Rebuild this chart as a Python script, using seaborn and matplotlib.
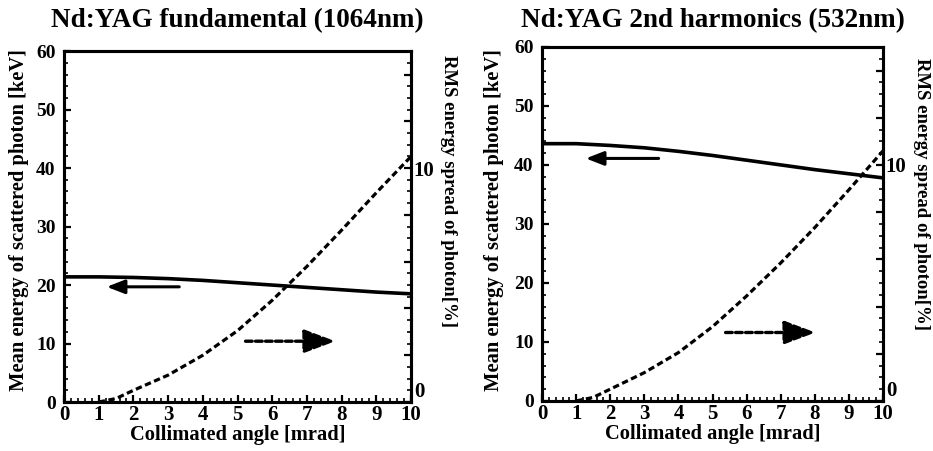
import matplotlib
matplotlib.use("Agg")
import matplotlib.pyplot as plt
from matplotlib.ticker import MultipleLocator
import seaborn as sns
import pandas as pd

# Collimated angle [mrad]
angle = [0, 1, 2, 3, 4, 5, 6, 7, 8, 9, 10]
# Mean energy of scattered photon [keV]
mean_1064 = [21.4, 21.4, 21.3, 21.1, 20.8, 20.4, 20.0, 19.6, 19.2, 18.8, 18.5]
mean_532 = [43.6, 43.6, 43.3, 42.9, 42.3, 41.6, 40.8, 40.0, 39.2, 38.5, 37.8]

# RMS energy spread of photon [%]
spread_angle = [1, 1.5, 2, 3, 4, 5, 6, 7, 8, 9, 10]
spread_1064 = [0.0, 0.15, 0.5, 1.15, 2.0, 3.05, 4.35, 5.8, 7.35, 8.95, 10.5]
spread_532 = [0.0, 0.15, 0.5, 1.2, 2.05, 3.15, 4.45, 5.85, 7.35, 8.95, 10.6]

titles = ["Nd:YAG fundamental (1064nm)", "Nd:YAG 2nd harmonics (532nm)"]
xticks = list(range(0, 11))
left_ticks = [0, 10, 20, 30, 40, 50, 60]
right_ticks = [0, 2, 4, 6, 8, 10, 12, 14]
right_labels = ["0", "", "", "", "", "10", "", ""]

sns.set_theme(style="white")
plt.rcParams["font.family"] = ["Liberation Serif", "DejaVu Serif"]
plt.rcParams["font.weight"] = "bold"
plt.rcParams["text.color"] = "black"
plt.rcParams["axes.labelcolor"] = "black"
plt.rcParams["axes.titlecolor"] = "black"
plt.rcParams["xtick.color"] = "black"
plt.rcParams["ytick.color"] = "black"

fig = plt.figure(figsize=(9.33, 4.51), dpi=100)
positions = [[0.0686, 0.1086, 0.372, 0.778], [0.581, 0.111, 0.3655, 0.785]]
title_pads = [17, 14]
ylabel_xy = [(-0.101, 0.518), (-0.111, 0.511)]
y2label_xy = [(1.107, 0.60), (1.114, 0.585)]
means = [mean_1064, mean_532]
spreads = [spread_1064, spread_532]
# arrow geometry per panel: solid tail/tip x and y (left axis), dashed tail/tip x and y (right axis)
arrows = [(3.4, 1.15, 19.7, 5.15, 7.9, 10.4 / 4),
          (3.5, 1.2, 41.1, 5.3, 8.1, 11.6 / 4)]

for i in range(2):
    ax = fig.add_axes(positions[i])
    ax2 = ax.twinx()

    dfm = pd.DataFrame({"angle": angle, "mean": means[i]})
    dfs = pd.DataFrame({"angle": spread_angle, "spread": spreads[i]})
    sns.lineplot(data=dfm, x="angle", y="mean", ax=ax, color="black", lw=2.6)
    sns.lineplot(data=dfs, x="angle", y="spread", ax=ax2, color="black",
                 lw=2.3, linestyle=(0, (2.0, 1.1)))

    ax.set_xlim(0, 10)
    ax.set_ylim(0, 60)
    ax2.set_ylim(0, 15)

    ax.set_xticks(xticks)
    ax.set_xticklabels([str(t) for t in xticks], fontsize=15, fontweight="bold")
    ax.xaxis.set_minor_locator(MultipleLocator(0.2))
    ax.set_yticks(left_ticks)
    ax.set_yticklabels([str(t) for t in left_ticks], fontsize=14, fontweight="bold")
    ax.yaxis.set_minor_locator(MultipleLocator(2))
    ax2.set_yticks(right_ticks)
    ax2.set_yticklabels(right_labels, fontsize=15, fontweight="bold")
    ax2.yaxis.set_minor_locator(MultipleLocator(0.5))
    # raise the right-hand zero so it sits above the bottom tick row
    for lab in ax2.get_yticklabels():
        if lab.get_text() == "0":
            lab.set_verticalalignment("bottom")

    for a in (ax, ax2):
        a.tick_params(which="major", direction="in", length=5, width=1.6, pad=2, colors="black")
        a.tick_params(which="minor", direction="in", length=3, width=1.2, colors="black")
        a.grid(False)
        for s in a.spines.values():
            s.set_linewidth(2.2)
            s.set_color("black")
    ax.tick_params(axis="y", which="both", left=True, right=False, pad=6)
    ax.tick_params(axis="x", which="both", bottom=True, top=False)
    ax2.tick_params(axis="y", which="both", right=True, left=False)

    ax.set_xlabel("Collimated angle [mrad]", fontsize=14.8, fontweight="bold", labelpad=0)
    ax.set_ylabel("Mean energy of scattered photon [keV]", fontsize=14.8, fontweight="bold")
    ax.yaxis.set_label_coords(*ylabel_xy[i])
    ax2.set_ylabel("RMS energy spread of photon[%]", fontsize=13.5, fontweight="bold",
                   rotation=-90, va="center")
    ax2.yaxis.set_label_coords(*y2label_xy[i])
    ax.set_title(titles[i], fontsize=19.5, fontweight="bold", pad=title_pads[i])

    # direction arrows pointing to each curve's axis
    sx0, sx1, sy, dx0, dx1, dy = arrows[i]
    ax.annotate("", xy=(sx1, sy), xytext=(sx0, sy),
                arrowprops=dict(arrowstyle="-|>,head_length=0.9,head_width=0.35",
                                color="black", lw=2.2))
    ax2.annotate("", xy=(dx1, dy), xytext=(dx0, dy),
                 arrowprops=dict(arrowstyle="-|>,head_length=1.6,head_width=0.6",
                                 color="black", lw=2.4, linestyle=(0, (2, 1))))

fig.savefig("out.png", dpi=100)
